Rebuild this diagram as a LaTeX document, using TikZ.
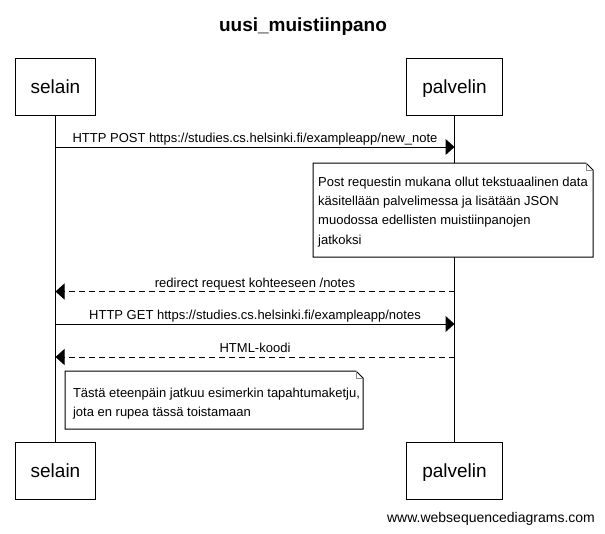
\documentclass[tikz,border=0pt]{standalone}
\usepackage{fontspec}
\setmainfont{Liberation Sans}
\usetikzlibrary{arrows.meta,positioning}

\begin{document}
\begin{tikzpicture}[x=1pt,y=-1pt,line width=1pt]
        \tikzset{
          actor/.style={draw,minimum height=57pt,inner xsep=15.5pt,inner ysep=0pt,
            text height=14pt,text depth=0pt,font=\fontsize{19}{23}\selectfont},
          msg/.style={-{Triangle[length=9pt,width=16pt]}},
          reply/.style={msg,dash pattern=on 6pt off 4pt},
          lbl/.style={above=1pt,inner sep=0pt,text depth=3pt,font=\fontsize{13}{16}\selectfont},
          notetext/.style={align=left,inner sep=0pt,font=\fontsize{13}{19.2}\selectfont},
        }
        \tikzset{
pics/notebox/.style args={#1/#2}{code={
\draw[fill=white] (0,0) -- (#1-7,0) -- (#1,7) -- (#1,#2) -- (0,#2) -- cycle;
\draw[black!45,line width=0.6pt] (#1-7,0) -- (#1-7,7) -- (#1,7);
},
}
}
        \useasboundingbox (0,0) rectangle (605,533);

        %TITLE
        \node[font=\bfseries\fontsize{19}{23}\selectfont] (title) at (303,27) {uusi\_muistiinpano};

        %ACTORS
        \node[actor] (selT) at (55.5,86.5) {selain};
        \node[actor] (palT) at (454.5,86.5) {palvelin};
        \node[actor] (selB) at (55.5,470.5) {selain};
        \node[actor] (palB) at (454.5,470.5) {palvelin};

        %LIFELINES
        \draw (selT) -- (selB);
        \draw (palT) -- (palB);

        %MESSAGES
        \foreach \n/\y in {1/147,2/291.5,3/324,4/357}{
          \coordinate (y\n) at (0,\y);
          \coordinate (s\n) at (selT |- y\n);
          \coordinate (p\n) at (palT |- y\n);
        }
        \draw[msg] (s1) -- node[lbl] {HTTP POST https://studies.cs.helsinki.fi/exampleapp/new\_note} (p1);
        \draw[reply] (p2) -- node[lbl] {redirect request kohteeseen /notes} (s2);
        \draw[msg] (s3) -- node[lbl] {HTTP GET https://studies.cs.helsinki.fi/exampleapp/notes} (p3);
        \draw[reply] (p4) -- node[lbl] {HTML-koodi} (s4);

        %NOTES
        \draw (313,163) pic {notebox={280/94}};
        \node[notetext] (note1) at (453,212) {Post requestin mukana ollut tekstuaalinen data\\
          käsitellään palvelimessa ja lisätään JSON\\
          muodossa edellisten muistiinpanojen\\
          jatkoksi};
        \draw (65,371) pic {notebox={298/58}};
        \node[notetext] (note2) at (216.5,403.5) {Tästä eteenpäin jatkuu esimerkin tapahtumaketju,\\
          jota en rupea tässä toistamaan};

        %WATERMARK
        \node[font=\fontsize{14}{17}\selectfont] (wsd) at (491,519) {www.websequencediagrams.com};
    \end{tikzpicture}
\end{document}
